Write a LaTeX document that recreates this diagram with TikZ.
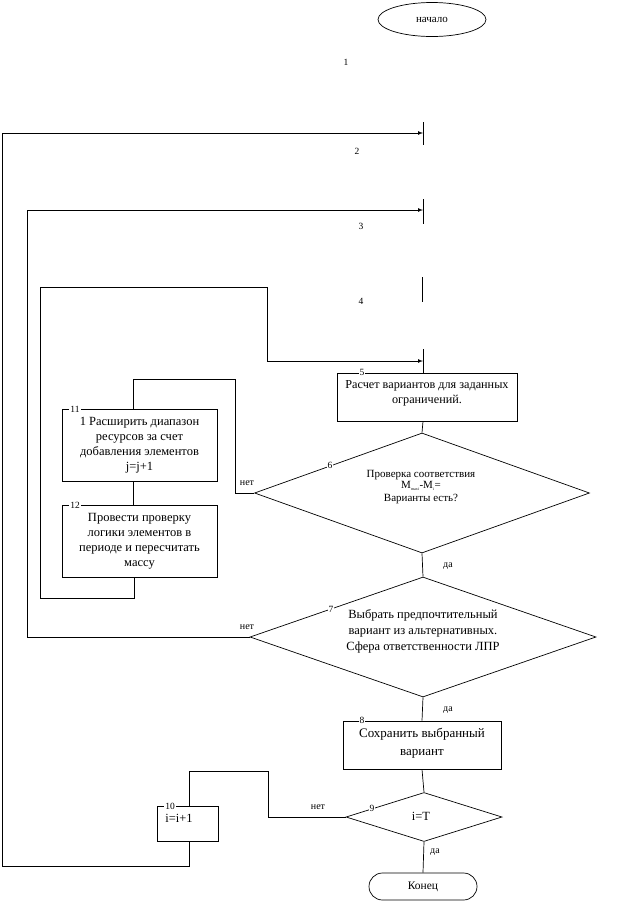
\documentclass[tikz,border=0pt]{standalone}
\usepackage{fontspec}
\setmainfont{Liberation Serif}
\usetikzlibrary{shapes.geometric}

\begin{document}
\begin{tikzpicture}[x=1pt,y=-1pt,line width=0.7pt]
	\tikzstyle{every node}=[font=\fontsize{12.5}{15}\selectfont]
	\tikzstyle{box}=[draw,rectangle,inner sep=0pt]
	\tikzstyle{ask}=[draw,diamond,inner sep=0pt]
	\tikzstyle{num}=[fill=white,inner sep=1pt,font=\fontsize{9.5}{9}\selectfont]
	\tikzstyle{word}=[inner sep=1pt,font=\fontsize{10}{9}\selectfont]
	\tikzstyle{pfeil}=[-latex]
	\useasboundingbox (0,0) rectangle (623,903);
	
	%Anfang und Ende
	\node[draw,ellipse,minimum width=108,minimum height=34,inner sep=0pt,font=\fontsize{11}{13}\selectfont] (start) at (432,19.5) {начало};
	\node[draw,rectangle,rounded corners=13.5,minimum width=108,minimum height=27,font=\fontsize{11.5}{13}\selectfont] (ende) at (423,886.5) {Конец};
	
	%Striche
	\coordinate (s1a) at (423,122); \coordinate (s1b) at (423,145);
	\coordinate (s2a) at (423,199); \coordinate (s2b) at (423,224);
	\coordinate (s3a) at (422,277); \coordinate (s3b) at (422,302);
	\coordinate (s4a) at (423,349); \coordinate (s4b) at (423,373);
	\draw (s1a) -- (s1b) (s2a) -- (s2b) (s3a) -- (s3b) (s4a) -- (s4b);
	\node[num] (n1) at (346,62) {1};
	\node[num] (n2) at (357,151) {2};
	\node[num] (n3) at (361,226) {3};
	\node[num] (n4) at (361,301) {4};
	
	%Bloecke
	\node[box,minimum width=180,minimum height=48] (b5) at (427,397) {};
	\node[align=center,font=\fontsize{12.2}{15}\selectfont] (t5) at (427,393) {Расчет вариантов для заданных\\ограничений.};
	\node[ask,minimum width=335,minimum height=120] (d6) at (422,493) {};
	\node[align=center,font=\fontsize{11}{14}\selectfont] (t6) at (421,487) {Проверка соответствия\\[-3pt]M\textsubscript{\fontsize{4}{4}\selectfont maxi}-M\textsubscript{\fontsize{4}{4}\selectfont i}=\\[-1pt]Варианты есть?};
	\node[ask,minimum width=346,minimum height=120] (d7) at (423,637) {};
	\node[align=center,font=\fontsize{12.5}{16}\selectfont] (t7) at (423,631) {Выбрать предпочтительный\\вариант из альтернативных.\\Сфера ответственности ЛПР};
	\node[box,minimum width=158,minimum height=48] (b8) at (422,745) {};
	\node[align=center,font=\fontsize{13}{18}\selectfont] (t8) at (422,743) {Сохранить выбранный\\вариант};
	\node[ask,minimum width=156,minimum height=49] (d9) at (424,817) {};
	\node (t9) at (421,816) {i=T};
	\node[box,minimum width=61,minimum height=35] (b10) at (187.5,823.5) {};
	\node[anchor=west,inner sep=0pt] (t10) at (165,818) {i=i+1};
	\node[box,minimum width=155,minimum height=72,align=center] (b11) at (139.5,445) {1 Расширить диапазон\\ресурсов за счет\\добавления элементов\\j=j+1};
	\node[box,minimum width=155,minimum height=72,align=center] (b12) at (139.5,541) {Провести проверку\\логики элементов в\\периоде и пересчитать\\массу};
	
	%Nummern
	\node[num] (n5) at (362,372) {5};
	\node[num] (n6) at (330,465) {6};
	\node[num] (n7) at (331,609) {7};
	\node[num] (n8) at (362,720) {8};
	\node[num] (n9) at (372,808) {9};
	\node[num] (n10) at (170,806) {10};
	\node[num] (n11) at (75,409) {11};
	\node[num] (n12) at (75,505) {12};
	
	%Linien
	\draw (s4b) -- (b5.north -| s4b);
	\draw (b5.south -| s4b) -- (d6.north);
	\draw (d6.south) -- (d7.north);
	\draw (d7.south) -- (b8.north);
	\draw (b8.south) -- (d9.north);
	\draw (d9.south) -- (ende.north);
	\draw (d6.west) -- (235,493) -- (235,379) -- (133,379) -- (133,409);
	\draw (133,481) -- (133,505);
	\draw[pfeil] (134,577) -- (134,598) -- (40,598) -- (40,287) -- (267,287) -- (267,361) -- (s4a |- 0,361);
	\draw[pfeil] (d7.west) -- (27,637) -- (27,210) -- (s2a |- 0,210);
	\draw[pfeil] (189,841) -- (189,866) -- (2,866) -- (2,133) -- (s1a |- 0,133);
	\draw (d9.west) -- (268,817) -- (268,771) -- (189,771) -- (189,806);
	
	%Beschriftung
	\node[word] (w1) at (247,483) {нет};
	\node[word] (w2) at (448,566) {да};
	\node[word] (w3) at (247,627) {нет};
	\node[word] (w4) at (448,710) {да};
	\node[word] (w5) at (318,807) {нет};
	\node[word] (w6) at (435,852) {да};
	
\end{tikzpicture}
\end{document}
